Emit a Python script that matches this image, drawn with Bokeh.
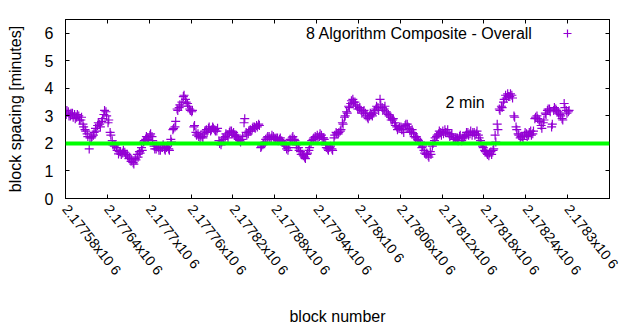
import math
from bokeh.plotting import figure
from bokeh.models import (Range1d, FixedTicker, LinearAxis, Span, Label, Legend,
                          LegendItem, CustomJSTickFormatter)
from bokeh.embed import file_html
from bokeh.resources import INLINE

# ---------------- data ----------------
series_name = "8 Algorithm Composite - Overall"
target_label = "2 min"
target_minutes = 2.0

first_block = 2177581
block_step = 3
# block spacing [minutes], read every 3rd block
spacing = [
    3.05, 3.15, 3.0, 3.1, 3.05, 2.95, 3.0, 2.85, 2.7, 2.5,
    2.35, 1.8, 2.2, 2.3, 2.55, 2.65, 2.7, 2.8, 3.05, 3.15,
    2.75, 2.4, 2.1, 1.9, 1.85, 1.62, 1.7, 1.65, 1.68, 1.6,
    1.45, 1.35, 1.3, 1.45, 1.6, 1.7, 1.85, 2.05, 2.15, 2.2,
    2.3, 2.25, 1.9, 1.8, 1.85, 1.75, 1.85, 1.8, 1.85, 1.8,
    2.15, 2.5, 2.6, 3.25, 3.3, 3.35, 3.7, 3.6, 3.45, 3.25,
    3.15, 2.6, 2.4, 2.35, 2.2, 2.25, 2.35, 2.5, 2.55, 2.45,
    2.6, 2.5, 2.45, 2.1, 1.95, 2.2, 2.25, 2.3, 2.4, 2.45,
    2.4, 2.25, 2.2, 2.1, 2.15, 2.75, 2.4, 2.35, 2.5, 2.55,
    2.6, 2.65, 2.7, 1.85, 1.95, 2.05, 2.2, 2.25, 2.2, 2.25,
    2.15, 2.2, 2.15, 2.1, 2.0, 1.9, 1.75, 2.15, 2.2, 2.15,
    1.95, 1.85, 1.7, 1.6, 1.5, 1.6, 1.75, 2.0, 2.15, 2.25,
    2.3, 2.25, 2.3, 2.2, 1.95, 1.8, 1.85, 1.8, 2.2, 2.4,
    2.35, 2.45, 2.75, 2.95, 3.15, 3.35, 3.45, 3.6, 3.5, 3.35,
    3.25, 3.2, 3.15, 3.1, 2.95, 3.0, 3.05, 3.1, 3.25, 3.3,
    3.6, 3.3, 3.25, 3.15, 3.05, 2.95, 2.85, 2.75, 2.6, 2.55,
    2.6, 2.5, 2.65, 2.7, 2.55, 2.4, 2.35, 2.2, 2.15, 2.0,
    1.85, 1.75, 1.6, 1.55, 1.7, 1.9, 2.1, 2.25, 2.35, 2.4,
    2.45, 2.5, 2.4, 2.35, 2.3, 2.2, 2.15, 2.2, 2.25, 2.1,
    2.2, 2.3, 2.4, 2.35, 2.3, 2.4, 2.35, 2.3, 2.1, 1.9,
    1.75, 1.65, 1.55, 1.7, 1.75, 2.3, 2.7, 3.25, 3.35, 3.5,
    3.75, 3.8, 3.7, 3.75, 3.0, 2.6, 2.35, 2.2, 2.25, 2.3,
    2.35, 2.3, 2.45, 2.35, 2.9, 3.0, 2.85, 2.65, 2.75, 3.1,
    3.2, 3.25, 2.6, 3.2, 3.25, 3.15, 3.05, 2.9, 3.45, 3.2,
    3.15,
]
# the in-between blocks (one block later), read from the cluster spread
spacing_mid = [
    3.2, 3.0, 3.1, 2.95, 2.9, 3.05, 2.85, 2.95, 2.6, 2.45,
    2.25, 2.2, 2.25, 2.4, 2.45, 2.75, 2.6, 2.9, 3.2, 3.0,
    2.85, 2.3, 1.95, 1.95, 1.75, 1.7, 1.6, 1.75, 1.6, 1.55,
    1.5, 1.4, 1.25, 1.4, 1.5, 1.65, 1.75, 2.1, 2.25, 2.15,
    2.35, 2.1, 1.8, 1.9, 1.75, 1.85, 1.95, 1.75, 1.9, 1.75,
    2.05, 2.55, 2.8, 3.2, 3.4, 3.5, 3.75, 3.5, 3.35, 3.2,
    3.2, 2.65, 2.3, 2.25, 2.3, 2.2, 2.45, 2.4, 2.6, 2.5,
    2.55, 2.45, 2.55, 2.0, 2.05, 2.15, 2.35, 2.2, 2.45, 2.35,
    2.3, 2.3, 2.15, 2.05, 2.25, 2.9, 2.3, 2.45, 2.45, 2.6,
    2.55, 2.6, 2.65, 1.9, 2.0, 2.15, 2.25, 2.15, 2.3, 2.2,
    2.2, 2.1, 2.2, 2.05, 1.95, 1.8, 1.85, 2.1, 2.25, 2.1,
    1.85, 1.75, 1.6, 1.55, 1.45, 1.65, 1.85, 2.1, 2.2, 2.2,
    2.2, 2.35, 2.2, 2.15, 1.85, 1.75, 1.9, 1.75, 2.3, 2.35,
    2.4, 2.5, 2.7, 3.0, 3.1, 3.3, 3.55, 3.5, 3.4, 3.25,
    3.3, 3.1, 3.2, 3.0, 2.9, 3.1, 3.0, 3.2, 3.35, 3.2,
    3.4, 3.2, 3.35, 3.1, 3.0, 2.85, 2.9, 2.65, 2.5, 2.6,
    2.5, 2.4, 2.7, 2.6, 2.45, 2.5, 2.25, 2.25, 2.1, 2.05,
    1.9, 1.65, 1.65, 1.5, 1.6, 2.0, 2.2, 2.3, 2.45, 2.3,
    2.35, 2.4, 2.5, 2.25, 2.35, 2.15, 2.2, 2.1, 2.3, 2.2,
    2.25, 2.4, 2.3, 2.45, 2.4, 2.3, 2.45, 2.2, 2.0, 1.85,
    1.7, 1.6, 1.65, 1.6, 1.8, 2.05, 2.5, 3.2, 3.3, 3.6,
    3.65, 3.7, 3.8, 3.65, 2.95, 2.5, 2.3, 2.25, 2.15, 2.4,
    2.25, 2.4, 2.3, 2.45, 2.95, 2.9, 2.8, 2.55, 2.85, 3.05,
    3.25, 3.15, 2.7, 3.3, 3.2, 3.1, 3.0, 2.85, 3.3, 3.1,
    3.2,
]
blocks = [first_block + block_step * i for i in range(len(spacing))]
blocks_mid = [first_block + 1 + block_step * i for i in range(len(spacing_mid))]
all_blocks = blocks + blocks_mid
all_spacing = spacing + spacing_mid

x_ticks = [2177580, 2177640, 2177700, 2177760, 2177820, 2177880, 2177940,
           2178000, 2178060, 2178120, 2178180, 2178240, 2178300, 2178360]
x_tick_labels = ["2.17758x10 6", "2.17764x10 6", "2.1777x10 6", "2.17776x10 6",
                 "2.17782x10 6", "2.17788x10 6", "2.17794x10 6", "2.178x10 6",
                 "2.17806x10 6", "2.17812x10 6", "2.17818x10 6", "2.17824x10 6",
                 "2.1783x10 6", "2.17836x10 6"]
y_ticks = [0, 1, 2, 3, 4, 5, 6]

# ---------------- style ----------------
FONT = "Liberation Sans"
PURPLE = "#9400d3"
GREEN = "#00ff00"
TICK_FS = "14px"
ANGLE = -0.9
STANDOFF = 8

p = figure(width=640, height=330, output_backend="svg", toolbar_location=None,
           x_range=Range1d(2177580, 2178360), y_range=Range1d(0, 6.5),
           min_border_left=65, min_border_right=31, min_border_top=19,
           min_border_bottom=132)
p.xgrid.visible = False
p.ygrid.visible = False
p.outline_line_color = "black"
p.outline_line_width = 1
p.background_fill_color = "white"
p.border_fill_color = "white"

# the last label sits on the right edge of the frame and runs off the page in
# the original; it is drawn as an annotation anchored at that tick
overrides = {t: l for t, l in zip(x_ticks, x_tick_labels)}
overrides[x_ticks[-1]] = ""

xa = p.xaxis[0]
xa.ticker = FixedTicker(ticks=x_ticks)
xa.major_label_overrides = overrides
xa.major_label_orientation = ANGLE
xa.major_tick_in = 4
xa.major_tick_out = 0
xa.minor_tick_line_color = None
xa.major_label_standoff = STANDOFF
xa.major_label_text_font = FONT
xa.major_label_text_font_size = TICK_FS
xa.major_label_text_color = "black"
xa.axis_label = "block number"
xa.axis_label_standoff = 22
xa.axis_label_text_font = FONT
xa.axis_label_text_font_size = "16px"
xa.axis_label_text_font_style = "normal"
xa.axis_label_text_color = "black"

ya = p.yaxis[0]
ya.ticker = FixedTicker(ticks=y_ticks)
ya.major_tick_in = 4
ya.major_tick_out = 0
ya.minor_tick_line_color = None
ya.major_label_standoff = 12
ya.major_label_text_font = FONT
ya.major_label_text_font_size = "16px"
ya.major_label_text_color = "black"
ya.axis_label = "block spacing [minutes]"
ya.axis_label_standoff = 18
ya.axis_label_text_font = FONT
ya.axis_label_text_font_size = "16px"
ya.axis_label_text_font_style = "normal"
ya.axis_label_text_color = "black"

blank = "return ''"
top = LinearAxis(ticker=FixedTicker(ticks=x_ticks), major_tick_in=4, major_tick_out=0,
                 minor_tick_line_color=None, formatter=CustomJSTickFormatter(code=blank),
                 major_label_standoff=0)
right = LinearAxis(ticker=FixedTicker(ticks=y_ticks), major_tick_in=4, major_tick_out=0,
                   minor_tick_line_color=None, formatter=CustomJSTickFormatter(code=blank),
                   major_label_standoff=0)
p.add_layout(top, "above")
p.add_layout(right, "right")

p.add_layout(Label(x=x_ticks[-1], y=0, y_offset=-STANDOFF, angle=ANGLE,
                   text=x_tick_labels[-1], text_align="left", text_baseline="middle",
                   text_font=FONT, text_font_size=TICK_FS, text_color="black"))

# reference line at 2 minutes
p.add_layout(Span(location=target_minutes, dimension="width", line_color=GREEN,
                  line_width=4))

r = p.scatter(all_blocks, all_spacing, marker="cross", size=9, line_color=PURPLE,
              line_width=1.2)

# legend: text then sample marker (gnuplot style)
p.add_layout(Label(x=2178250, y=6.0, text=series_name, text_align="right",
                   text_baseline="middle", text_font=FONT, text_font_size="16px",
                   text_color="black"))
legend = Legend(items=[LegendItem(label=" ", renderers=[r])], location=(492, 155),
                padding=0, margin=0, spacing=0, label_standoff=0, label_width=0,
                glyph_width=20, glyph_height=20, border_line_color=None,
                background_fill_alpha=0, label_text_font_size="1px")
p.add_layout(legend)

p.add_layout(Label(x=2178125, y=3.5, text=target_label, text_align="left",
                   text_baseline="middle", text_font=FONT, text_font_size="16px",
                   text_color="black"))

open("out.html", "w").write(file_html(p, INLINE))
